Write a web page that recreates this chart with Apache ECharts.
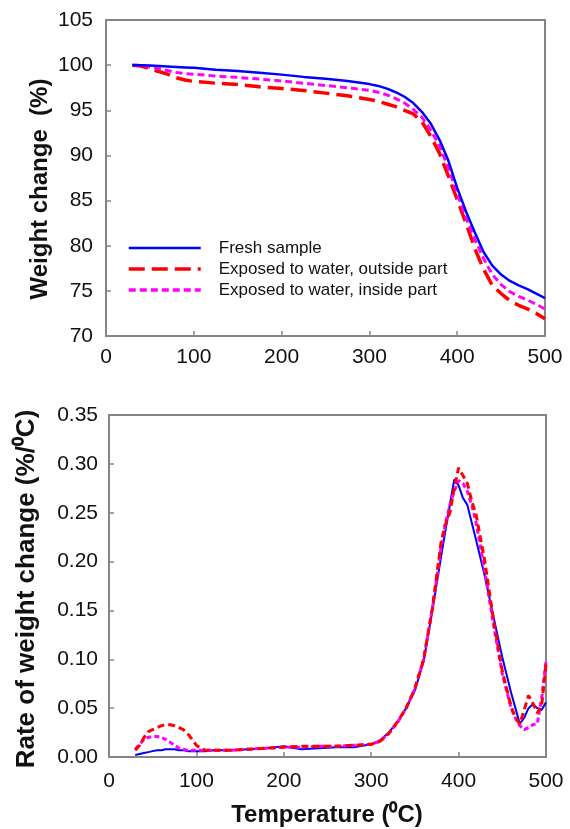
<!DOCTYPE html>
<html>
<head>
<meta charset="utf-8">
<script src="https://cdn.jsdelivr.net/npm/echarts@6.0.0/dist/echarts.min.js"></script>
<style>
  html, body { margin: 0; padding: 0; background: #fff; }
</style>
</head>
<body>
<div id="main" style="width: 570px;height:829px;"></div>
<script type="text/javascript">
    // 数据：上图（失重 %）
    var seriesNames = ['Fresh sample', 'Exposed to water, outside part', 'Exposed to water, inside part'];
    var tempTop = [30, 40, 50, 60, 70, 80, 90, 100, 125, 150, 175, 200, 225, 250, 275, 300, 310, 320, 330, 340,
        350, 360, 370, 380, 390, 400, 410, 420, 430, 440, 450, 460, 470, 480, 490, 500];
    var freshWeight = [100, 100, 99.95, 99.9, 99.85, 99.8, 99.75, 99.7, 99.5, 99.35, 99.15, 98.95, 98.7, 98.5, 98.25, 97.9, 97.7, 97.4, 97.0, 96.5,
        95.8, 94.8, 93.5, 91.7, 89.4, 86.4, 83.8, 81.5, 79.3, 77.8, 76.8, 76.1, 75.6, 75.2, 74.7, 74.2];
    var outsideWeight = [100, 99.9, 99.6, 99.3, 99.0, 98.6, 98.35, 98.2, 98.0, 97.85, 97.6, 97.4, 97.2, 96.9, 96.6, 96.2, 96.0, 95.7, 95.4, 95.0,
        94.6, 93.7, 92.1, 90.2, 87.7, 85.1, 82.5, 79.7, 77.4, 75.6, 74.7, 73.9, 73.4, 73.0, 72.5, 71.9];
    var insideWeight = [100, 100, 99.8, 99.6, 99.4, 99.2, 99.05, 99.0, 98.8, 98.65, 98.45, 98.25, 98.0, 97.75, 97.5, 97.2, 97.0, 96.7, 96.3, 95.8,
        95.1, 94.2, 92.8, 91.0, 88.6, 85.8, 83.1, 80.7, 78.6, 76.8, 75.7, 74.9, 74.4, 74.0, 73.5, 73.0];

    // 数据：下图（失重速率 %/°C）
    var tempRate = [30, 35, 40, 45, 50, 55, 60, 65, 70, 75, 80, 85, 90, 95, 100, 105, 110, 120, 140, 160, 180, 200, 220, 240, 260, 280,
        300, 310, 320, 330, 340, 350, 360, 370, 380, 385, 390, 395, 400, 405, 410, 415, 420, 430, 440, 450, 460, 465, 470, 475, 480, 485, 490, 495, 500];
    var freshRate = [0.002, 0.003, 0.004, 0.005, 0.006, 0.007, 0.007, 0.008, 0.008, 0.008, 0.007, 0.007, 0.006, 0.006, 0.006, 0.006, 0.006, 0.007, 0.007, 0.008, 0.009, 0.011, 0.008, 0.009, 0.010, 0.010,
        0.013, 0.017, 0.025, 0.036, 0.050, 0.068, 0.098, 0.150, 0.205, 0.232, 0.258, 0.284, 0.278, 0.265, 0.258, 0.240, 0.222, 0.185, 0.143, 0.102, 0.066, 0.050, 0.034, 0.040, 0.050, 0.054, 0.050, 0.048, 0.056];
    var outsideRate = [0.007, 0.012, 0.020, 0.026, 0.028, 0.030, 0.032, 0.033, 0.033, 0.032, 0.030, 0.028, 0.024, 0.018, 0.012, 0.009, 0.007, 0.007, 0.007, 0.008, 0.009, 0.010, 0.011, 0.011, 0.011, 0.012,
        0.013, 0.016, 0.024, 0.036, 0.050, 0.070, 0.100, 0.152, 0.220, 0.238, 0.250, 0.275, 0.296, 0.288, 0.280, 0.262, 0.248, 0.200, 0.140, 0.088, 0.052, 0.040, 0.034, 0.048, 0.063, 0.055, 0.045, 0.052, 0.095];
    var insideRate = [0.008, 0.013, 0.018, 0.020, 0.021, 0.021, 0.020, 0.018, 0.015, 0.012, 0.009, 0.008, 0.007, 0.007, 0.007, 0.007, 0.007, 0.007, 0.007, 0.008, 0.009, 0.010, 0.010, 0.011, 0.011, 0.012,
        0.013, 0.016, 0.024, 0.035, 0.050, 0.070, 0.100, 0.152, 0.215, 0.240, 0.258, 0.272, 0.283, 0.280, 0.272, 0.258, 0.240, 0.190, 0.135, 0.085, 0.050, 0.040, 0.032, 0.028, 0.030, 0.033, 0.034, 0.060, 0.098];

    var tempTicks = [0, 100, 200, 300, 400, 500];

    function pairs(xs, ys) {
        return xs.map(function (x, i) { return [x, ys[i]]; });
    }

    var FONT = '"Liberation Sans", Arial, sans-serif';
    var axisGrey = '#858585';

    function xAxisOf(grid, margin) {
        return {
            type: 'value', gridIndex: grid, min: tempTicks[0], max: tempTicks[tempTicks.length - 1], interval: 100,
            axisLine: { show: true, onZero: false, lineStyle: { color: axisGrey, width: 2 } },
            axisTick: { show: true, inside: true, length: 5, lineStyle: { color: axisGrey, width: 1.5 } },
            axisLabel: { color: '#111', fontSize: 21, fontFamily: FONT, margin: margin },
            splitLine: { show: false }
        };
    }

    var myChart = echarts.init(document.getElementById('main'));
    option = {
        backgroundColor: '#fff',
        animation: false,
        grid: [
            { left: 106, top: 20, width: 439, height: 316, show: true, borderColor: axisGrey, borderWidth: 2 },
            { left: 109, top: 415, width: 437, height: 342, show: true, borderColor: axisGrey, borderWidth: 2 }
        ],
        legend: {
            data: [
                { name: seriesNames[0], lineStyle: { width: 2.5 } },
                { name: seriesNames[1], lineStyle: { width: 3.5 } },
                { name: seriesNames[2], lineStyle: { width: 3.5 } }
            ],
            orient: 'vertical',
            left: 127, top: 239.5,
            padding: 0,
            itemWidth: 72, itemHeight: 10, itemGap: 4,
            itemStyle: { opacity: 0 },
            textStyle: { fontSize: 17, lineHeight: 17, color: '#111', fontFamily: FONT, padding: [0, 0, 0, 13] },
            selectedMode: false
        },
        xAxis: [xAxisOf(0, 11), xAxisOf(1, 14)],
        yAxis: [
            {
                type: 'value', gridIndex: 0, min: 70, max: 105, interval: 5,
                axisLine: { show: true, lineStyle: { color: axisGrey, width: 2 } },
                axisTick: { show: true, inside: true, length: 5, lineStyle: { color: axisGrey, width: 1.5 } },
                axisLabel: { color: '#111', fontSize: 21, fontFamily: FONT, margin: 13 },
                splitLine: { show: false }
            },
            {
                type: 'value', gridIndex: 1, min: 0, max: 0.35, interval: 0.05,
                axisLine: { show: true, lineStyle: { color: axisGrey, width: 2 } },
                axisTick: { show: true, inside: true, length: 5, lineStyle: { color: axisGrey, width: 1.5 } },
                axisLabel: {
                    color: '#111', fontSize: 21, fontFamily: FONT, margin: 11,
                    formatter: function (v) { return v.toFixed(2); }
                },
                splitLine: { show: false }
            }
        ],
        graphic: [
            {
                type: 'text', x: 40, y: 189, rotation: Math.PI / 2,
                style: { text: 'Weight change  (%)', font: 'bold 24px ' + FONT, fill: '#111',
                    align: 'center', verticalAlign: 'middle', textAlign: 'center', textVerticalAlign: 'middle' }
            },
            {
                type: 'text', x: 27, y: 589, rotation: Math.PI / 2,
                style: { text: 'Rate of weight change (%/\u2070C)', font: 'bold 26px ' + FONT, fill: '#111',
                    align: 'center', verticalAlign: 'middle', textAlign: 'center', textVerticalAlign: 'middle' }
            },
            {
                type: 'text', x: 327, y: 815,
                style: { text: 'Temperature (\u2070C)', font: 'bold 24px ' + FONT, fill: '#111',
                    align: 'center', verticalAlign: 'middle', textAlign: 'center', textVerticalAlign: 'middle' }
            }
        ],
        series: [
            // 上图
            { name: seriesNames[1], type: 'line', xAxisIndex: 0, yAxisIndex: 0, symbol: 'none', color: '#ff0000',
                lineStyle: { color: '#ff0000', width: 3.5, type: [16, 7] }, data: pairs(tempTop, outsideWeight) },
            { name: seriesNames[2], type: 'line', xAxisIndex: 0, yAxisIndex: 0, symbol: 'none', color: '#ff00ff',
                lineStyle: { color: '#ff00ff', width: 3, type: [7, 4] }, data: pairs(tempTop, insideWeight) },
            { name: seriesNames[0], type: 'line', xAxisIndex: 0, yAxisIndex: 0, symbol: 'none', color: '#0000ff',
                lineStyle: { color: '#0000ff', width: 2.5 }, data: pairs(tempTop, freshWeight) },
            // 下图
            { name: seriesNames[0], type: 'line', xAxisIndex: 1, yAxisIndex: 1, symbol: 'none', color: '#0000ff',
                lineStyle: { color: '#0000ff', width: 2 }, data: pairs(tempRate, freshRate) },
            { name: seriesNames[2], type: 'line', xAxisIndex: 1, yAxisIndex: 1, symbol: 'none', color: '#ff00ff',
                lineStyle: { color: '#ff00ff', width: 3, type: [5, 3] }, data: pairs(tempRate, insideRate) },
            { name: seriesNames[1], type: 'line', xAxisIndex: 1, yAxisIndex: 1, symbol: 'none', color: '#ff0000',
                lineStyle: { color: '#ff0000', width: 3, type: [7, 4] }, data: pairs(tempRate, outsideRate) }
        ]
    };
    myChart.setOption(option);
</script>
</body>
</html>
